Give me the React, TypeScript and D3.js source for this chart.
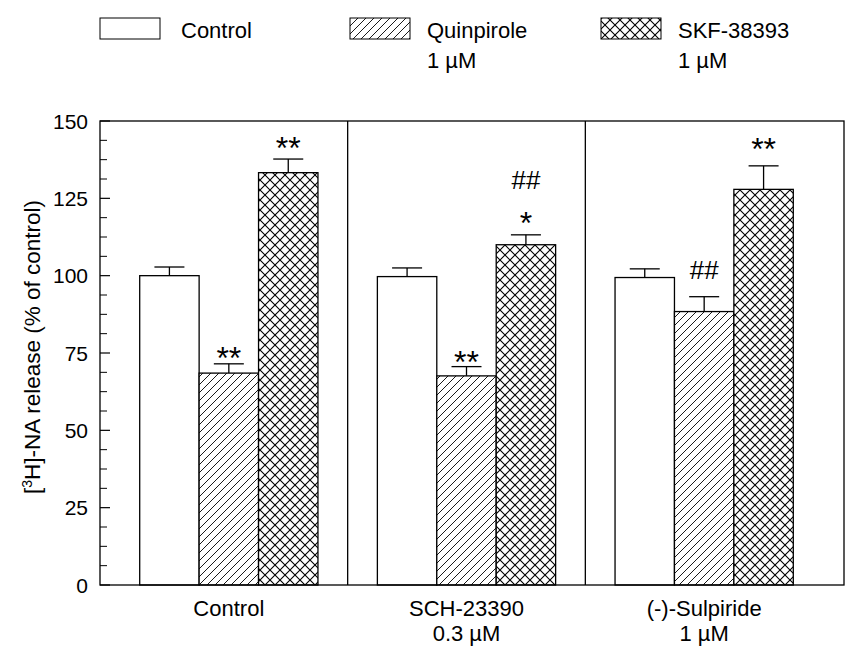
import React from "react";
import * as d3 from "d3";

const groups = ["Control", "SCH-23390", "(-)-Sulpiride"];
const groupSub = ["", "0.3 µM", "1 µM"];
const treatments = ["Control", "Quinpirole", "SKF-38393"];
const treatmentSub = ["", "1 µM", "1 µM"];
const controlVals = [100, 99.7, 99.4];
const quinVals = [68.5, 67.6, 88.4];
const skfVals = [133.3, 110.0, 127.9];
const controlErr = [2.8, 2.8, 2.8];
const quinErr = [3.0, 3.0, 4.8];
const skfErr = [4.4, 3.2, 7.6];
const yTicks = [0, 25, 50, 75, 100, 125, 150];
const annoGroup = [0, 0, 1, 1, 1, 2, 2];
const annoTreat = [1, 2, 1, 2, 2, 1, 2];
const annoText = ["**", "**", "**", "*", "##", "##", "**"];
const annoVal = [75.8, 143.6, 74.6, 119.5, 131.0, 101.8, 143.4];

const W = 854;
const H = 648;
const FL = 100;
const FR = 844;
const FT = 121;
const FB = 585;
const FONT = "'Liberation Sans', Arial, Helvetica, sans-serif";

export default function App() {
  const y = d3.scaleLinear().domain([0, 150]).range([FB, FT]);
  const x = d3.scaleBand<string>().domain(groups).range([110, 823]).paddingInner(0).paddingOuter(0);
  const xi = d3.scaleBand<string>().domain(treatments).range([0, x.bandwidth()]).paddingInner(0).paddingOuter(0.5);
  const series = [controlVals, quinVals, skfVals];
  const errs = [controlErr, quinErr, skfErr];
  const fills = ["#fff", "url(#hatch)", "url(#cross)"];
  const minor = d3.range(0, 150.01, 6.25).filter((v) => v % 25 !== 0);
  const capW = 30;

  return (
    <svg width={W} height={H} style={{ position: "absolute", left: 0, top: 0, background: "#fff" }} fontFamily={FONT}>
      <defs>
        <pattern id="hatch" patternUnits="userSpaceOnUse" width="8" height="8">
          <rect width="8" height="8" fill="#fff" />
          <path d="M-2,2 l4,-4 M0,8 l8,-8 M6,10 l4,-4" stroke="#000" strokeWidth="0.9" />
        </pattern>
        <pattern id="cross" patternUnits="userSpaceOnUse" width="10" height="10">
          <rect width="10" height="10" fill="#fff" />
          <path d="M0,0 L10,10 M10,0 L0,10" stroke="#000" strokeWidth="1.1" />
        </pattern>
      </defs>

      {/* legend */}
      {treatments.map((t, i) => {
        const bx = [100, 350, 601][i];
        const tx = [181, 427, 678][i];
        return (
          <g key={t}>
            <rect x={bx} y={18} width={60} height={21} fill={fills[i]} stroke="#000" strokeWidth={1} />
            <text x={tx} y={38} fontSize={22}>{t}</text>
            {treatmentSub[i] && <text x={tx} y={68} fontSize={22}>{treatmentSub[i]}</text>}
          </g>
        );
      })}

      {/* bars */}
      {groups.map((g, gi) =>
        treatments.map((t, ti) => {
          const v = series[ti][gi];
          const e = errs[ti][gi];
          const bx = (x(g) as number) + (xi(t) as number);
          const cx = bx + xi.bandwidth() / 2;
          return (
            <g key={g + t}>
              <line x1={cx} x2={cx} y1={y(v)} y2={y(v + e)} stroke="#000" strokeWidth={1.3} />
              <line x1={cx - capW / 2} x2={cx + capW / 2} y1={y(v + e)} y2={y(v + e)} stroke="#000" strokeWidth={1.3} />
              <rect x={bx} y={y(v)} width={xi.bandwidth()} height={FB - y(v)} fill={fills[ti]} stroke="#000" strokeWidth={1.3} />
            </g>
          );
        })
      )}

      {/* annotations */}
      {annoText.map((s, i) => {
        const g = groups[annoGroup[i]];
        const t = treatments[annoTreat[i]];
        const cx = (x(g) as number) + (xi(t) as number) + xi.bandwidth() / 2;
        const isStar = s.includes("*");
        return (
          <text key={i} x={cx} y={y(annoVal[i])} dy={isStar ? "0.58em" : "0.36em"} textAnchor="middle" fontSize={isStar ? 32 : 26}>
            {s}
          </text>
        );
      })}

      {/* frame */}
      <rect x={FL} y={FT} width={FR - FL} height={FB - FT} fill="none" stroke="#000" strokeWidth={1.3} />
      {groups.slice(1).map((g) => (
        <line key={g} x1={x(g) as number} x2={x(g) as number} y1={FT} y2={FB} stroke="#000" strokeWidth={1.3} />
      ))}

      {/* y axis ticks */}
      {yTicks.map((v) => (
        <g key={v}>
          <line x1={FL} x2={FL + 10} y1={y(v)} y2={y(v)} stroke="#000" strokeWidth={1.2} />
          <text x={88} y={y(v)} dy="0.36em" textAnchor="end" fontSize={21}>{v}</text>
        </g>
      ))}
      {minor.map((v) => (
        <line key={v} x1={FL} x2={FL + 7} y1={y(v)} y2={y(v)} stroke="#000" strokeWidth={1} />
      ))}

      {/* y title */}
      <text transform={`translate(40,${(FT + FB) / 2 - 6}) rotate(-90)`} textAnchor="middle" fontSize={22.5}>
        [<tspan fontSize={14} dy={-8}>3</tspan><tspan dy={8}>H]-NA release (% of control)</tspan>
      </text>

      {/* x labels */}
      {groups.map((g, i) => {
        const cx = (x(g) as number) + x.bandwidth() / 2;
        return (
          <g key={g}>
            <text x={cx} y={616} textAnchor="middle" fontSize={22}>{g}</text>
            {groupSub[i] && <text x={cx} y={641} textAnchor="middle" fontSize={22}>{groupSub[i]}</text>}
          </g>
        );
      })}
    </svg>
  );
}
